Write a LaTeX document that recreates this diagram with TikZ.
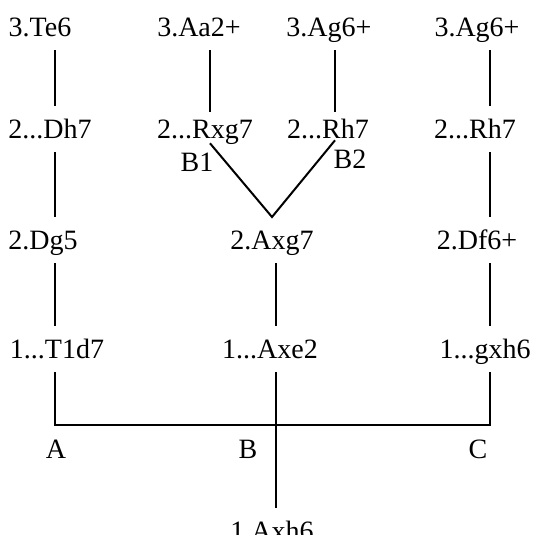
\documentclass[tikz,border=0pt]{standalone}
\usepackage{fontspec}
\setmainfont{Liberation Serif}
\begin{document}
\begin{tikzpicture}[x=0.5pt,y=-0.5pt,line width=1pt,
  font=\fontsize{14pt}{17pt}\selectfont,
  move/.style={inner sep=0pt,text height=9.3pt,text depth=0pt,minimum height=22pt},
  lbl/.style={inner sep=0pt,text height=9.3pt,text depth=0pt}]
\useasboundingbox (0,0) rectangle (533,535);
\coordinate (colA) at (55,0);
\coordinate (colM1) at (210,0);
\coordinate (colB) at (276,0);
\coordinate (colM2) at (335,0);
\coordinate (colC) at (490,0);
\coordinate (base) at (276,425);
% line A
\node[move] (te6) at (40,27) {3.Te6};
\node[move] (dh7) at (50,129) {2...Dh7};
\node[move] (dg5) at (43,240) {2.Dg5};
\node[move] (t1d7) at (57,349) {1...T1d7};
% line B
\node[move] (aa2) at (199,27) {3.Aa2+};
\node[move] (ag6a) at (329,27) {3.Ag6+};
\node[move] (rxg7) at (205,129) {2...Rxg7};
\node[move] (rh7a) at (328,129) {2...Rh7};
\node[move] (axg7) at (272,240) {2.Axg7};
\node[move] (axe2) at (270,349) {1...Axe2};
% line C
\node[move] (ag6b) at (477,27) {3.Ag6+};
\node[move] (rh7b) at (475,129) {2...Rh7};
\node[move] (df6) at (477,240) {2.Df6+};
\node[move] (gxh6) at (485,349) {1...gxh6};
\node[move] (axh6) at (272,531) {1.Axh6};
\node[lbl] (b1) at (197,162) {B1};
\node[lbl] (b2) at (350,159) {B2};
\node[lbl] (la) at (56,449) {A};
\node[lbl] (lb) at (248,449) {B};
\node[lbl] (lc) at (478,449) {C};
\draw (te6.south -| colA) -- (dh7.north -| colA);
\draw (dh7.south -| colA) -- (dg5.north -| colA);
\draw (dg5.south -| colA) -- (t1d7.north -| colA);
\draw (aa2.south -| colM1) -- ([yshift=-3pt]rxg7.north -| colM1);
\draw (ag6a.south -| colM2) -- ([yshift=-3pt]rh7a.north -| colM2);
\draw ([yshift=-2.5pt]rxg7.base -| colM1) -- (axg7.north) -- ([yshift=-1pt]rh7a.base -| colM2);
\draw (axg7.south -| colB) -- (axe2.north -| colB);
\draw (axe2.south -| colB) -- (axh6.north -| colB);
\draw (ag6b.south -| colC) -- (rh7b.north -| colC);
\draw (rh7b.south -| colC) -- (df6.north -| colC);
\draw (df6.south -| colC) -- (gxh6.north -| colC);
\draw (t1d7.south -| colA) |- (base) -| (gxh6.south -| colC);
\end{tikzpicture}
\end{document}
